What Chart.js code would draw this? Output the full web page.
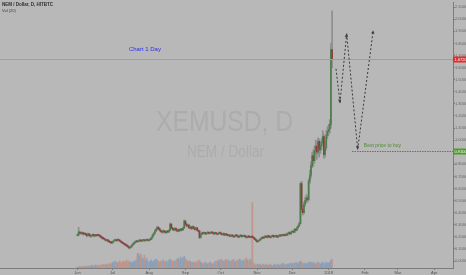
<!DOCTYPE html>
<html>
<head>
<meta charset="utf-8">
<script src="https://cdn.jsdelivr.net/npm/chart.js@4.4.0/dist/chart.umd.min.js"></script>
<style>
  html, body { margin: 0; padding: 0; background: #b8b8b8; }
  #chart { display: block; }
</style>
</head>
<body>
<canvas id="chart" width="466" height="275"></canvas>
<script>
// day 0 = 1 Jun 2017, one candle per day up to 4 Jan 2018
const firstOpen = 0.212;

const closes = [
  0.215, 0.240, 0.232, 0.228, 0.235, 0.222, 0.230, 0.218, 0.210, 0.225,
  0.215, 0.205, 0.212, 0.220, 0.208, 0.215, 0.210, 0.218, 0.212, 0.205,
  0.198, 0.190, 0.185, 0.178, 0.170, 0.175, 0.165, 0.160, 0.152, 0.150,
  0.162, 0.170, 0.175, 0.168, 0.178, 0.172, 0.165, 0.158, 0.150, 0.145,
  0.138, 0.132, 0.125, 0.118, 0.108, 0.115, 0.128, 0.140, 0.150, 0.158,
  0.165, 0.160, 0.168, 0.172, 0.165, 0.170, 0.175, 0.168, 0.172, 0.178,
  0.170, 0.175, 0.180, 0.195, 0.215, 0.230, 0.250, 0.262, 0.280, 0.268,
  0.255, 0.245, 0.238, 0.250, 0.242, 0.235, 0.248, 0.240, 0.255, 0.305,
  0.275, 0.262, 0.258, 0.270, 0.255, 0.248, 0.260, 0.252, 0.265, 0.258,
  0.275, 0.330, 0.305, 0.290, 0.298, 0.275, 0.282, 0.268, 0.285, 0.270,
  0.262, 0.275, 0.255, 0.248, 0.195, 0.220, 0.232, 0.228, 0.235, 0.225,
  0.230, 0.238, 0.228, 0.232, 0.240, 0.230, 0.225, 0.235, 0.228, 0.222,
  0.230, 0.236, 0.225, 0.220, 0.228, 0.215, 0.222, 0.218, 0.210, 0.215,
  0.205, 0.212, 0.208, 0.200, 0.210, 0.215, 0.205, 0.198, 0.208, 0.212,
  0.202, 0.206, 0.210, 0.200, 0.195, 0.205, 0.200, 0.196, 0.202, 0.198,
  0.190, 0.180, 0.170, 0.160, 0.168, 0.175, 0.185, 0.195, 0.190, 0.200,
  0.205, 0.195, 0.210, 0.200, 0.195, 0.205, 0.212, 0.200, 0.205, 0.210,
  0.198, 0.205, 0.215, 0.208, 0.212, 0.218, 0.210, 0.220, 0.215, 0.228,
  0.235, 0.225, 0.240, 0.245, 0.238, 0.262, 0.255, 0.275, 0.290, 0.310,
  0.640, 0.430, 0.400, 0.470, 0.500, 0.520, 0.510, 0.660, 0.710, 0.790,
  0.870, 0.830, 0.910, 0.950, 0.900, 0.990, 0.920, 0.950, 0.980, 1.030,
  0.880, 0.940, 1.040, 1.070, 1.090, 1.130, 1.750, 1.672
];

const highs = [
  0.222, 0.279, 0.246, 0.238, 0.242, 0.238, 0.236, 0.233, 0.222, 0.232,
  0.228, 0.218, 0.218, 0.226, 0.223, 0.220, 0.219, 0.224, 0.222, 0.216,
  0.210, 0.202, 0.196, 0.190, 0.182, 0.181, 0.178, 0.170, 0.164, 0.158,
  0.168, 0.176, 0.182, 0.179, 0.184, 0.181, 0.175, 0.168, 0.161, 0.154,
  0.148, 0.142, 0.135, 0.129, 0.121, 0.120, 0.133, 0.146, 0.156, 0.164,
  0.171, 0.170, 0.174, 0.178, 0.176, 0.175, 0.180, 0.178, 0.177, 0.183,
  0.181, 0.179, 0.186, 0.201, 0.222, 0.238, 0.258, 0.270, 0.290, 0.286,
  0.272, 0.260, 0.250, 0.258, 0.255, 0.246, 0.254, 0.252, 0.262, 0.315,
  0.310, 0.280, 0.268, 0.276, 0.274, 0.260, 0.266, 0.264, 0.271, 0.268,
  0.282, 0.342, 0.335, 0.310, 0.306, 0.302, 0.290, 0.286, 0.292, 0.290,
  0.275, 0.282, 0.278, 0.260, 0.252, 0.228, 0.240, 0.238, 0.241, 0.238,
  0.236, 0.245, 0.242, 0.237, 0.246, 0.243, 0.234, 0.240, 0.238, 0.231,
  0.235, 0.242, 0.239, 0.229, 0.233, 0.231, 0.227, 0.226, 0.221, 0.220,
  0.218, 0.217, 0.215, 0.211, 0.215, 0.220, 0.218, 0.208, 0.213, 0.217,
  0.215, 0.211, 0.215, 0.213, 0.204, 0.210, 0.208, 0.204, 0.207, 0.206,
  0.201, 0.193, 0.184, 0.173, 0.173, 0.180, 0.190, 0.200, 0.199, 0.205,
  0.210, 0.208, 0.215, 0.213, 0.204, 0.210, 0.217, 0.215, 0.210, 0.215,
  0.213, 0.210, 0.220, 0.218, 0.217, 0.223, 0.221, 0.225, 0.224, 0.234,
  0.242, 0.239, 0.246, 0.252, 0.250, 0.270, 0.268, 0.283, 0.298, 0.322,
  0.650, 0.660, 0.460, 0.490, 0.530, 0.550, 0.540, 0.680, 0.750, 0.820,
  0.900, 0.920, 0.950, 1.000, 0.980, 1.020, 1.010, 0.990, 1.010, 1.080,
  1.050, 0.990, 1.080, 1.110, 1.130, 1.170, 1.800, 2.070
];

const lows = [
  0.205, 0.212, 0.226, 0.220, 0.224, 0.215, 0.218, 0.212, 0.200, 0.205,
  0.208, 0.196, 0.200, 0.208, 0.200, 0.203, 0.204, 0.206, 0.206, 0.198,
  0.192, 0.184, 0.178, 0.172, 0.164, 0.165, 0.158, 0.153, 0.146, 0.143,
  0.147, 0.158, 0.166, 0.162, 0.164, 0.166, 0.160, 0.152, 0.144, 0.139,
  0.132, 0.126, 0.119, 0.112, 0.100, 0.104, 0.112, 0.125, 0.136, 0.146,
  0.154, 0.155, 0.156, 0.164, 0.160, 0.161, 0.166, 0.163, 0.164, 0.168,
  0.165, 0.166, 0.171, 0.177, 0.190, 0.210, 0.225, 0.244, 0.256, 0.260,
  0.248, 0.238, 0.230, 0.233, 0.236, 0.228, 0.231, 0.234, 0.236, 0.250,
  0.268, 0.255, 0.250, 0.252, 0.250, 0.240, 0.243, 0.246, 0.248, 0.252,
  0.254, 0.270, 0.298, 0.282, 0.284, 0.268, 0.270, 0.260, 0.264, 0.264,
  0.255, 0.258, 0.248, 0.240, 0.185, 0.190, 0.216, 0.222, 0.224, 0.220,
  0.221, 0.226, 0.224, 0.224, 0.229, 0.226, 0.220, 0.222, 0.223, 0.217,
  0.219, 0.226, 0.220, 0.215, 0.217, 0.210, 0.212, 0.213, 0.205, 0.206,
  0.200, 0.202, 0.203, 0.195, 0.197, 0.206, 0.201, 0.193, 0.195, 0.204,
  0.198, 0.199, 0.203, 0.196, 0.190, 0.192, 0.196, 0.192, 0.193, 0.194,
  0.185, 0.175, 0.165, 0.155, 0.157, 0.165, 0.172, 0.182, 0.186, 0.187,
  0.196, 0.191, 0.192, 0.196, 0.191, 0.192, 0.202, 0.196, 0.197, 0.202,
  0.194, 0.195, 0.202, 0.204, 0.205, 0.209, 0.206, 0.207, 0.211, 0.212,
  0.224, 0.220, 0.222, 0.236, 0.232, 0.235, 0.248, 0.252, 0.270, 0.285,
  0.305, 0.400, 0.380, 0.390, 0.455, 0.480, 0.485, 0.500, 0.640, 0.690,
  0.770, 0.780, 0.810, 0.880, 0.840, 0.880, 0.860, 0.890, 0.920, 0.960,
  0.850, 0.860, 0.920, 1.010, 1.040, 1.060, 1.100, 1.600
];

// volume (millions)
const volumes = [
  0.5, 0.5, 1.0, 0.5, 0.5, 1.0, 0.5, 1.0, 0.5, 1.0,
  1.0, 1.0, 1.5, 1.0, 1.0, 1.5, 1.0, 1.5, 1.0, 1.5,
  1.5, 1.5, 2.0, 1.5, 2.0, 1.5, 2.0, 2.0, 2.5, 2.0,
  3.0, 2.5, 3.5, 3.0, 2.5, 3.0, 3.5, 2.5, 3.0, 3.5,
  3.0, 3.5, 4.0, 3.0, 3.5, 3.0, 2.5, 3.0, 3.5, 3.0,
  4.0, 7.0, 7.5, 6.0, 7.0, 5.0, 4.5, 6.5, 4.0, 5.0,
  3.5, 3.0, 3.5, 4.0, 3.0, 3.5, 4.0, 4.5, 4.0, 3.5,
  3.0, 3.5, 3.0, 4.0, 3.5, 3.0, 3.5, 3.0, 4.0, 4.5,
  3.5, 4.0, 3.0, 3.5, 4.0, 4.5, 5.0, 4.0, 5.5, 4.5,
  5.0, 6.0, 4.5, 4.0, 3.5, 3.0, 3.5, 2.5, 3.0, 2.5,
  3.0, 2.5, 3.5, 3.0, 4.0, 3.0, 2.5, 2.0, 2.5, 3.0,
  2.5, 2.0, 2.5, 3.0, 2.0, 2.5, 2.0, 3.0, 3.5, 3.0,
  4.0, 3.5, 4.5, 4.0, 3.5, 3.0, 4.0, 4.5, 3.5, 4.0,
  3.0, 3.5, 4.0, 4.5, 3.5, 3.0, 4.0, 3.5, 4.5, 4.0,
  3.0, 4.0, 3.5, 4.5, 5.0, 4.0, 3.5, 4.5, 4.0, 33.0,
  2.5, 2.0, 1.5, 2.0, 1.5, 2.0, 1.5, 1.5, 2.0, 1.5,
  1.5, 2.0, 1.5, 1.5, 2.0, 1.5, 1.0, 1.5, 2.0, 1.5,
  1.5, 2.0, 1.5, 1.5, 2.0, 2.5, 1.5, 2.0, 1.5, 2.0,
  2.0, 2.5, 2.0, 2.5, 2.0, 2.5, 3.0, 2.5, 2.0, 3.0,
  3.5, 3.0, 2.5, 2.0, 2.5, 2.0, 2.5, 3.0, 2.5, 3.0,
  2.5, 3.0, 2.5, 2.0, 2.5, 3.0, 2.5, 2.0, 2.5, 3.0,
  2.5, 2.0, 3.0, 2.5, 2.5, 3.0, 4.0, 4.5
];

// axis ticks
const monthTicks = [0, 30, 61, 92, 122, 153, 183, 214, 245, 273, 304];
const monthLabels = ['Jun', 'Jul', 'Aug', 'Sep', 'Oct', 'Nov', 'Dec', '2018', 'Feb', 'Mar', 'Apr'];
const priceTicks = [0.0, 0.1, 0.2, 0.3, 0.4, 0.5, 0.6, 0.7, 0.8, 0.9, 1.0,
  1.1, 1.2, 1.3, 1.4, 1.5, 1.6, 1.7, 1.8, 1.9, 2.0, 2.1];

// drawing on the chart (day, price)
const bestBuyPrice = 0.91;
const bestBuyFromDay = 234;
const arrowPath = [[220.3, 1.59], [223.7, 1.31], [229.4, 1.88], [238.8, 0.924], [252, 1.907]];

// colours
const upColor = '#4b7e47';
const downColor = '#8f3b3b';
const wickColor = '#8e8e8e';
const volUpColor = '#8aa0b9';
const volDownColor = '#be968a';

// build datasets
const days = closes.map((c, i) => i);
const opens = closes.map((c, i) => i === 0 ? firstOpen : closes[i - 1]);
const bodyData = days.map(i => ({ x: i, y: [opens[i], closes[i]] }));
const wickData = days.map(i => ({ x: i, y: [lows[i], highs[i]] }));
const volData = days.map(i => ({ x: i, y: volumes[i] }));
const bodyColors = days.map(i => closes[i] >= opens[i] ? upColor : downColor);
const volColors = days.map(i => closes[i] >= opens[i] ? volUpColor : volDownColor);

function drawArrowHead(ctx, x0, y0, x1, y1) {
    const a = Math.atan2(y1 - y0, x1 - x0);
    const s = 3.5;
    ctx.beginPath();
    ctx.moveTo(x1, y1);
    ctx.lineTo(x1 - s * Math.cos(a - 0.5), y1 - s * Math.sin(a - 0.5));
    ctx.lineTo(x1 - s * Math.cos(a + 0.5), y1 - s * Math.sin(a + 0.5));
    ctx.closePath();
    ctx.fill();
}

function axisBox(ctx, area, y, color, text) {
    ctx.fillStyle = color;
    ctx.fillRect(area.right, y - 3, 13, 6);
    ctx.fillStyle = '#ffffff';
    ctx.font = '4px "Liberation Sans", Arial, sans-serif';
    ctx.textAlign = 'left';
    ctx.textBaseline = 'middle';
    ctx.fillText(text, area.right + 1.5, y + 0.3);
}

const backgroundPlugin = {
    id: 'background',
    beforeDraw(chart) {
        const ctx = chart.ctx;
        ctx.save();
        ctx.fillStyle = '#b8b8b8';
        ctx.fillRect(0, 0, chart.width, chart.height);
        ctx.restore();
    },
    beforeDatasetsDraw(chart) {
        // watermark
        const ctx = chart.ctx;
        const a = chart.chartArea;
        const cx = (a.left + a.right) / 2 - 2;
        ctx.save();
        ctx.fillStyle = '#acacac';
        ctx.textAlign = 'center';
        ctx.textBaseline = 'middle';
        ctx.font = '30px "Liberation Sans", Arial, sans-serif';
        let w = ctx.measureText('XEMUSD, D').width;
        ctx.save();
        ctx.translate(cx, 123);
        ctx.scale(137 / w, 1);
        ctx.fillText('XEMUSD, D', 0, 0);
        ctx.restore();
        ctx.font = '16px "Liberation Sans", Arial, sans-serif';
        w = ctx.measureText('NEM / Dollar').width;
        ctx.save();
        ctx.translate(cx + 1, 153);
        ctx.scale(77 / w, 1);
        ctx.fillText('NEM / Dollar', 0, 0);
        ctx.restore();
        ctx.restore();
    },
    afterDraw(chart) {
        const ctx = chart.ctx;
        const a = chart.chartArea;
        const xs = chart.scales.x;
        const ys = chart.scales.y;
        ctx.save();

        // last price line
        const lastClose = closes[closes.length - 1];
        const yLast = Math.round(ys.getPixelForValue(lastClose)) + 0.5;
        ctx.strokeStyle = '#c88e8e';
        ctx.lineWidth = 1;
        ctx.beginPath();
        ctx.moveTo(a.left, yLast);
        ctx.lineTo(a.right, yLast);
        ctx.stroke();

        // best price line
        const yBuy = Math.round(ys.getPixelForValue(bestBuyPrice)) + 0.5;
        ctx.strokeStyle = '#4a8a2c';
        ctx.setLineDash([1.5, 1]);
        ctx.beginPath();
        ctx.moveTo(xs.getPixelForValue(bestBuyFromDay), yBuy);
        ctx.lineTo(a.right, yBuy);
        ctx.stroke();
        ctx.setLineDash([]);

        ctx.fillStyle = '#4f8d33';
        ctx.font = '5px "Liberation Sans", Arial, sans-serif';
        ctx.textAlign = 'left';
        ctx.textBaseline = 'middle';
        ctx.fillText('Best price to buy', xs.getPixelForValue(244), ys.getPixelForValue(0.953));

        // projected path
        ctx.strokeStyle = '#3a3a3a';
        ctx.fillStyle = '#3a3a3a';
        ctx.lineWidth = 1;
        for (let i = 1; i < arrowPath.length; i++) {
            const x0 = xs.getPixelForValue(arrowPath[i - 1][0]);
            const y0 = ys.getPixelForValue(arrowPath[i - 1][1]);
            const x1 = xs.getPixelForValue(arrowPath[i][0]);
            const y1 = ys.getPixelForValue(arrowPath[i][1]);
            ctx.setLineDash([2, 2]);
            ctx.beginPath();
            ctx.moveTo(x0, y0);
            ctx.lineTo(x1, y1);
            ctx.stroke();
            ctx.setLineDash([]);
            drawArrowHead(ctx, x0, y0, x1, y1);
        }

        // note
        ctx.fillStyle = '#2c2cf0';
        ctx.font = '6px "Liberation Sans", Arial, sans-serif';
        ctx.textAlign = 'center';
        ctx.fillText('Chart 1 Day', xs.getPixelForValue(57.5), ys.getPixelForValue(1.754));

        // header
        ctx.fillStyle = '#2e2e2e';
        ctx.textAlign = 'left';
        ctx.font = 'bold 4.5px "Liberation Sans", Arial, sans-serif';
        ctx.fillText('NEM / Dollar, D, HITBTC', 2, 5);
        ctx.font = '4px "Liberation Sans", Arial, sans-serif';
        ctx.fillStyle = '#3c3c3c';
        ctx.fillText('Vol (20)', 2, 11);

        // price boxes on the axis
        axisBox(ctx, a, yLast, '#de2f2f', lastClose.toFixed(5));
        axisBox(ctx, a, yBuy, '#4f9a2c', bestBuyPrice.toFixed(5));

        ctx.restore();
    }
};

const ctx = document.getElementById('chart').getContext('2d');
const chart = new Chart(ctx, {
    type: 'bar',
    data: {
        datasets: [
            {
                label: 'Volume',
                data: volData,
                yAxisID: 'yv',
                backgroundColor: volColors,
                barThickness: 1,
                grouped: false,
                order: 3
            },
            {
                label: 'Wick',
                data: wickData,
                yAxisID: 'y',
                backgroundColor: wickColor,
                barThickness: 1,
                grouped: false,
                order: 2
            },
            {
                label: 'Body',
                data: bodyData,
                yAxisID: 'y',
                backgroundColor: bodyColors,
                barThickness: 1,
                minBarLength: 1,
                grouped: false,
                order: 1
            }
        ]
    },
    options: {
        responsive: false,
        animation: false,
        devicePixelRatio: 1,
        layout: { padding: 0 },
        plugins: {
            legend: { display: false },
            tooltip: { enabled: false }
        },
        scales: {
            x: {
                type: 'linear',
                min: -66,
                max: 320,
                offset: false,
                grid: { offset: false, drawOnChartArea: false, tickLength: 2, color: '#7c7c7c' },
                border: { color: '#7c7c7c' },
                afterBuildTicks: scale => { scale.ticks = monthTicks.map(v => ({ value: v })); },
                afterFit: scale => { scale.height = 7; },
                ticks: {
                    autoSkip: false,
                    maxRotation: 0,
                    padding: 0,
                    color: '#555555',
                    font: { size: 4, family: '"Liberation Sans", Arial, sans-serif' },
                    callback: (v, i) => monthLabels[i]
                }
            },
            y: {
                position: 'right',
                min: -7 / 122,
                max: 261 / 122,
                grid: { drawOnChartArea: false, tickLength: 2, color: '#7c7c7c' },
                border: { color: '#7c7c7c' },
                afterBuildTicks: scale => { scale.ticks = priceTicks.map(v => ({ value: v })); },
                afterFit: scale => { scale.width = 13; },
                ticks: {
                    autoSkip: false,
                    padding: 0,
                    color: '#666666',
                    font: { size: 4, family: '"Liberation Sans", Arial, sans-serif' },
                    callback: v => v.toFixed(5)
                }
            },
            yv: {
                display: false,
                min: 0,
                max: 134
            }
        }
    },
    plugins: [backgroundPlugin]
});
</script>
</body>
</html>
